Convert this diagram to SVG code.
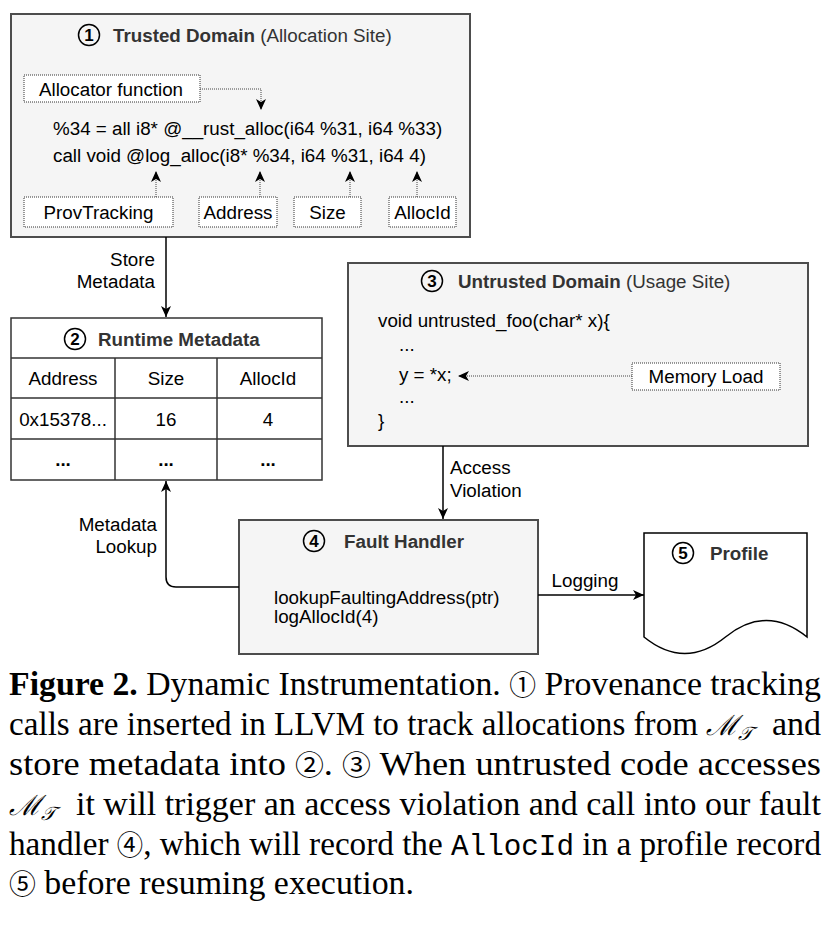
<svg xmlns="http://www.w3.org/2000/svg" width="832" height="932" viewBox="0 0 832 932">
<defs>
<style>
.t{font-family:"Liberation Sans",Arial,sans-serif;font-size:18.8px;fill:#000}
.b{font-weight:bold}
.h{fill:#333}
.num{font-family:"Liberation Sans",Arial,sans-serif;font-size:17px;font-weight:bold;fill:#000;text-anchor:middle}
.nc{fill:none;stroke:#000;stroke-width:1.5}
.panel{fill:#f5f5f5;stroke:#4d4d4d;stroke-width:2}
.lbl{fill:#fff;stroke:#333;stroke-width:1;stroke-dasharray:1 1}
.tbl{fill:#fff;stroke:#333;stroke-width:1.5}
.edge{fill:none;stroke:#000;stroke-width:1.5}
.dot{fill:none;stroke:#444;stroke-width:1;stroke-dasharray:1 1}
.c{text-anchor:middle}
.e{text-anchor:end}
.cap{font-family:"Liberation Serif","Times New Roman",serif;font-size:34px;fill:#000}
.cd{font-family:"Noto Sans CJK JP","DejaVu Sans",sans-serif;font-weight:normal;font-size:27px}
.mt{font-family:"Liberation Serif","Times New Roman",serif;font-style:italic;font-size:28px;fill:#000}
.ms{font-size:19px}
</style>
<marker id="ah" viewBox="0 0 11 10" refX="11" refY="5" markerWidth="11" markerHeight="10" markerUnits="userSpaceOnUse" orient="auto">
<path d="M0,0 L11,5 L0,10 L3,5 Z" fill="#000"/>
</marker>
</defs>
<rect width="832" height="932" fill="#fff"/>

<g id="trusted">
<rect class="panel" x="11" y="14" width="459" height="223"/>
<circle class="nc" cx="89" cy="35" r="10.5"/>
<text class="num" x="89" y="41">1</text>
<text class="t h" x="113" y="41.5"><tspan class="b">Trusted Domain</tspan> (Allocation Site)</text>
<text class="t" x="53" y="135">%34 = all i8* @__rust_alloc(i64 %31, i64 %33)</text>
<text class="t" x="53" y="162">call void @log_alloc(i8* %34, i64 %31, i64 4)</text>
</g>
<g id="allocator-function">
<rect class="lbl" x="24" y="75" width="176" height="27"/>
<text class="t" x="39" y="95.5">Allocator function</text>
</g>
<g id="provtracking">
<rect class="lbl" x="24" y="197" width="149" height="30"/>
<text class="t c" x="98.5" y="218.5">ProvTracking</text>
</g>
<g id="address">
<rect class="lbl" x="199" y="197" width="78" height="30"/>
<text class="t c" x="238" y="218.5">Address</text>
</g>
<g id="size">
<rect class="lbl" x="294" y="197" width="67" height="30"/>
<text class="t c" x="327.5" y="218.5">Size</text>
</g>
<g id="allocid">
<rect class="lbl" x="389" y="197" width="67" height="30"/>
<text class="t c" x="422.5" y="218.5">AllocId</text>
</g>

<g id="runtime-metadata">
<rect class="tbl" x="11" y="318" width="311" height="162"/>
<line class="tbl" x1="11" y1="358" x2="322" y2="358"/>
<line class="tbl" x1="11" y1="398" x2="322" y2="398"/>
<line class="tbl" x1="11" y1="439" x2="322" y2="439"/>
<line class="tbl" x1="115" y1="358" x2="115" y2="480"/>
<line class="tbl" x1="217" y1="358" x2="217" y2="480"/>
<circle class="nc" cx="75" cy="339" r="10.5"/>
<text class="num" x="75" y="345">2</text>
<text class="t b h" x="98" y="345.5">Runtime Metadata</text>
<text class="t c" x="63" y="385">Address</text>
<text class="t c" x="166" y="385">Size</text>
<text class="t c" x="268" y="385">AllocId</text>
<text class="t c" x="63" y="426">0x15378...</text>
<text class="t c" x="166" y="426">16</text>
<text class="t c" x="268" y="426">4</text>
<text class="t b c" x="63" y="466">...</text>
<text class="t b c" x="166" y="466">...</text>
<text class="t b c" x="268" y="466">...</text>
</g>

<g id="untrusted">
<rect class="panel" x="348" y="263" width="460" height="183"/>
<circle class="nc" cx="432" cy="281" r="10.5"/>
<text class="num" x="432" y="287">3</text>
<text class="t h" x="458" y="287.5"><tspan class="b">Untrusted Domain</tspan> (Usage Site)</text>
<text class="t" x="378" y="327">void untrusted_foo(char* x){</text>
<text class="t" x="399" y="351">...</text>
<text class="t" x="399" y="381">y = *x;</text>
<text class="t" x="399" y="403">...</text>
<text class="t" x="378" y="427">}</text>
</g>
<g id="memory-load">
<rect class="lbl" x="632" y="363" width="148" height="27"/>
<text class="t c" x="706" y="383">Memory Load</text>
</g>

<g id="fault-handler">
<rect class="panel" x="239" y="520" width="299" height="134"/>
<circle class="nc" cx="314" cy="541" r="10.5"/>
<text class="num" x="314" y="547">4</text>
<text class="t b h" x="344" y="547.5">Fault Handler</text>
<text class="t" x="274" y="604">lookupFaultingAddress(ptr)</text>
<text class="t" x="274" y="623">logAllocId(4)</text>
</g>

<g id="profile">
<path d="M644,533 H807 V637 Q766.25,604 725.5,637 Q684.75,670 644,637 Z" fill="#fff" stroke="#000" stroke-width="1.5"/>
<circle class="nc" cx="683" cy="553" r="10.5"/>
<text class="num" x="683" y="559">5</text>
<text class="t b h" x="710" y="559.5">Profile</text>
</g>

<g id="connectors">
<path class="dot" d="M200,89 H261 V110" marker-end="url(#ah)"/>
<path class="dot" d="M156,197 V171" marker-end="url(#ah)"/>
<path class="dot" d="M260,197 V171" marker-end="url(#ah)"/>
<path class="dot" d="M350,197 V171" marker-end="url(#ah)"/>
<path class="dot" d="M417,197 V171" marker-end="url(#ah)"/>
<path class="dot" d="M632,376 H458" marker-end="url(#ah)"/>
<path class="edge" d="M166,237 V317" marker-end="url(#ah)"/>
<text class="t e" x="155" y="266">Store</text>
<text class="t e" x="155" y="288">Metadata</text>
<path class="edge" d="M443,446 V519" marker-end="url(#ah)"/>
<text class="t" x="450" y="474">Access</text>
<text class="t" x="450" y="497">Violation</text>
<path class="edge" d="M239,587 H176 Q166,587 166,577 V481" marker-end="url(#ah)"/>
<text class="t e" x="157" y="531">Metadata</text>
<text class="t e" x="157" y="553">Lookup</text>
<path class="edge" d="M538,595 H644" marker-end="url(#ah)"/>
<text class="t c" x="585" y="587">Logging</text>
</g>

<g id="caption">
<text class="cap" x="9" y="695" textLength="812" lengthAdjust="spacingAndGlyphs"><tspan font-weight="bold">Figure 2.</tspan> Dynamic Instrumentation. <tspan class="cd">①</tspan> Provenance tracking</text>
<text class="cap" x="9" y="735" font-size="32" textLength="689" lengthAdjust="spacingAndGlyphs">calls are inserted in LLVM to track allocations from</text>
<text class="mt" x="706" y="735">ℳ<tspan class="ms" dy="5">𝒯</tspan></text>
<text class="cap" x="772" y="735" textLength="49" lengthAdjust="spacingAndGlyphs">and</text>
<text class="cap" x="9" y="775" textLength="812" lengthAdjust="spacingAndGlyphs">store metadata into <tspan class="cd">②</tspan>. <tspan class="cd">③</tspan> When untrusted code accesses</text>
<text class="mt" x="9" y="815">ℳ<tspan class="ms" dy="5">𝒯</tspan></text>
<text class="cap" x="76" y="815" textLength="745" lengthAdjust="spacingAndGlyphs">it will trigger an access violation and call into our fault</text>
<text class="cap" x="9" y="855" textLength="812" lengthAdjust="spacingAndGlyphs">handler <tspan class="cd">④</tspan>, which will record the <tspan font-family="'Liberation Mono','Courier New',monospace" font-size="30">AllocId</tspan> in a profile record</text>
<text class="cap" x="9" y="894" textLength="405" lengthAdjust="spacingAndGlyphs"><tspan class="cd">⑤</tspan> before resuming execution.</text>
</g>
</svg>
